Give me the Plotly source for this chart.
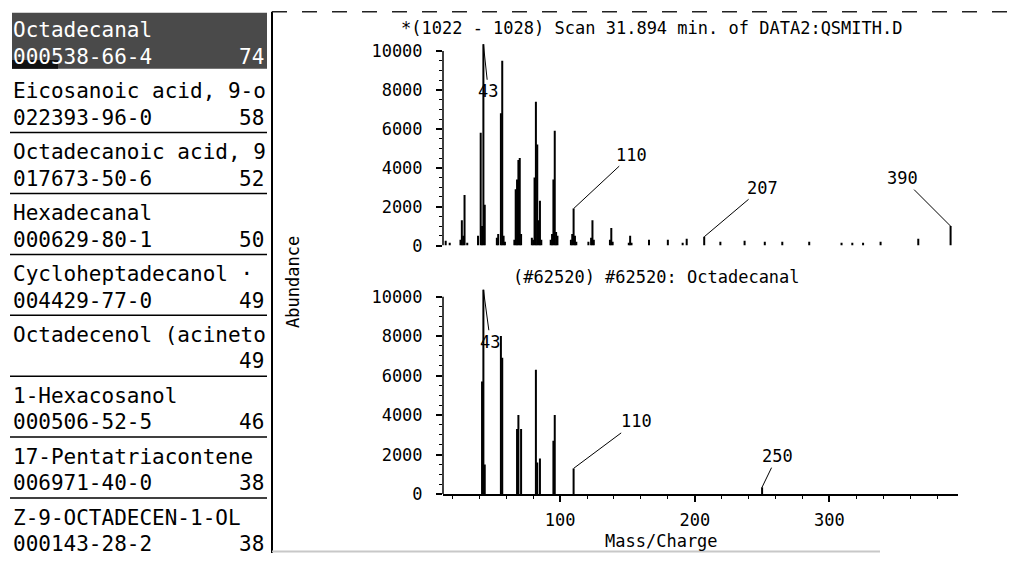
import plotly.graph_objects as go

W, H = 1016, 563
MONO = "DejaVu Sans Mono"

# ---- library search hit list ----
hit_names = ["Octadecanal", "Eicosanoic acid, 9-o", "Octadecanoic acid, 9", "Hexadecanal",
             "Cycloheptadecanol ·", "Octadecenol (acineto", "1-Hexacosanol",
             "17-Pentatriacontene", "Z-9-OCTADECEN-1-OL"]
hit_cas = ["000538-66-4", "022393-96-0", "017673-50-6", "000629-80-1", "004429-77-0", "",
           "000506-52-5", "006971-40-0", "000143-28-2"]
hit_quality = [74, 58, 52, 50, 49, 49, 46, 38, 38]

# ---- averaged scan spectrum (m/z, abundance) ----
scan_mz = [15, 18, 26, 27, 28, 29, 31, 39, 41, 42, 43, 44, 53, 54, 56, 57, 58, 59,
           66, 67, 68, 69, 70, 71, 79, 80, 81, 82, 83, 84, 85, 86, 93, 94, 95, 96, 97, 98,
           108, 109, 110, 111, 112, 121, 123, 124, 125, 137, 138, 139, 151, 152, 153,
           166, 180, 191, 194, 207, 219, 237, 252, 265, 285, 309, 317, 325, 338, 366, 390]
scan_abund = [250, 150, 300, 1300, 500, 2600, 150, 500, 5800, 1000, 10350, 2100, 400, 600, 6800, 9500, 500, 200,
              300, 2900, 3400, 4400, 4500, 600, 400, 300, 3500, 7400, 5200, 1300, 2300, 300, 300, 600, 3400, 5900, 700, 500,
              300, 600, 1900, 500, 200, 200, 400, 1300, 300, 300, 900, 200, 150, 500, 150,
              300, 300, 150, 350, 450, 200, 250, 200, 200, 200, 150, 150, 150, 200, 350, 1000]

# ---- reference library spectrum #62520 ----
lib_mz = [42, 43, 44, 56, 57, 68, 69, 71, 82, 83, 85, 95, 96, 110, 250]
lib_abund = [5700, 10350, 1500, 8000, 6900, 3300, 4000, 3300, 6300, 1600, 1800, 2700, 4000, 1300, 350]

scan_labels = [43, 110, 207, 390]
lib_labels = [43, 110, 250]

y_ticks = [0, 2000, 4000, 6000, 8000, 10000]
x_ticks = [100, 200, 300]


def px(x):
    return x / W


def py(y):
    return 1 - y / H


def sticks(mz, ab):
    xs, ys = [], []
    for m, a in zip(mz, ab):
        xs += [m, m, None]
        ys += [0, a, None]
    return xs, ys


fig = go.Figure()
sx, sy = sticks(scan_mz, scan_abund)
fig.add_trace(go.Scatter(x=sx, y=sy, mode="lines", line=dict(color="black", width=2),
                         xaxis="x", yaxis="y", hoverinfo="skip"))
lx, ly = sticks(lib_mz, lib_abund)
fig.add_trace(go.Scatter(x=lx, y=ly, mode="lines", line=dict(color="black", width=2),
                         xaxis="x2", yaxis="y2", hoverinfo="skip"))

xdom = [px(443), px(958)]
xrange_ = [13, 395.5]
minor_y = [v for v in range(500, 10001, 500) if v % 2000]
minor_x = [v for v in range(20, 395, 20) if v % 100]

FS = 17
tfont = dict(family=MONO, size=FS, color="black")

yaxis_common = dict(
    tickvals=y_ticks, ticktext=[str(v) for v in y_ticks], ticks="outside", ticklen=6,
    tickwidth=1.5, tickcolor="black", showgrid=False, zeroline=False, showline=False,
    tickfont=tfont, ticklabelstandoff=10,
    minor=dict(tickvals=minor_y, ticks="outside", ticklen=3, tickcolor="black", tickwidth=1),
)

fig.update_layout(
    width=W, height=H, autosize=False,
    margin=dict(l=0, r=0, t=0, b=0),
    paper_bgcolor="white", plot_bgcolor="white",
    showlegend=False,
    xaxis=dict(domain=xdom, range=xrange_, anchor="y", showline=False, showticklabels=False,
               ticks="", showgrid=False, zeroline=False),
    yaxis=dict(domain=[py(250), py(40)], range=[0, 10606], anchor="x", **yaxis_common),
    xaxis2=dict(domain=xdom, range=xrange_, anchor="y2", showline=True, linecolor="black",
                linewidth=1.5, ticks="outside", ticklen=6, tickwidth=1.5, tickcolor="black",
                tickvals=x_ticks, ticktext=[str(v) for v in x_ticks], showgrid=False,
                zeroline=False, tickfont=tfont, ticklabelstandoff=4,
                minor=dict(tickvals=minor_x, ticks="outside", ticklen=3, tickcolor="black",
                           tickwidth=1)),
    yaxis2=dict(domain=[py(503), py(290)], range=[0, 10597], anchor="x2", **yaxis_common),
)

shapes = []
annotations = []

# vertical axis lines up to the top tick
for xr, yr in (("x domain", "y"), ("x2 domain", "y2")):
    shapes.append(dict(type="line", xref=xr, yref=yr, x0=0, x1=0, y0=0, y1=10000,
                       line=dict(color="black", width=1.5)))

# window frame
shapes.append(dict(type="line", xref="paper", yref="paper", x0=px(272), x1=px(272),
                   y0=py(12), y1=py(563), line=dict(color="black", width=2)))
shapes.append(dict(type="line", xref="paper", yref="paper", x0=px(272), x1=1,
                   y0=py(12), y1=py(12), line=dict(color="#222222", width=1.5, dash="longdash")))
shapes.append(dict(type="line", xref="paper", yref="paper", x0=px(272), x1=px(880),
                   y0=py(561.5), y1=py(561.5), line=dict(color="#c8c8c8", width=2)))

# hit list: highlighted first entry
shapes.append(dict(type="rect", xref="paper", yref="paper", x0=px(12), x1=px(267),
                   y0=py(70), y1=py(13), fillcolor="#4a4a4a", line=dict(width=0), layer="below"))
shapes.append(dict(type="rect", xref="paper", yref="paper", x0=px(12), x1=px(58),
                   y0=py(70), y1=py(61), fillcolor="#111111", line=dict(width=0), layer="below"))

row0, step = 31, 62
for i, (name, cas, q) in enumerate(zip(hit_names, hit_cas, hit_quality)):
    y1 = row0 + step * i
    y2 = y1 + 27
    col = "white" if i == 0 else "black"
    font = dict(family=MONO, size=21, color=col)
    annotations.append(dict(x=px(11), y=py(y1), xref="paper", yref="paper", text=name,
                            showarrow=False, xanchor="left", yanchor="middle", font=font))
    if cas:
        annotations.append(dict(x=px(11), y=py(y2), xref="paper", yref="paper", text=cas,
                                showarrow=False, xanchor="left", yanchor="middle", font=font))
    annotations.append(dict(x=px(266), y=py(y2), xref="paper", yref="paper", text=str(q),
                            showarrow=False, xanchor="right", yanchor="middle", font=font))

# rules between hit entries
for i in range(1, len(hit_names) - 1):
    ys = row0 + step * i + 42
    shapes.append(dict(type="line", xref="paper", yref="paper", x0=px(10), x1=px(267),
                       y0=py(ys), y1=py(ys), line=dict(color="black", width=1.5)))

# panel titles and axis titles
annotations += [
    dict(x=px(652), y=py(29), xref="paper", yref="paper", showarrow=False,
         text="*(1022 - 1028) Scan 31.894 min. of DATA2:QSMITH.D", font=tfont,
         xanchor="center", yanchor="middle"),
    dict(x=px(656), y=py(282), xref="paper", yref="paper", showarrow=False,
         text="(#62520) #62520: Octadecanal", font=tfont, xanchor="center", yanchor="middle"),
    dict(x=px(293), y=py(287), xref="paper", yref="paper", showarrow=False,
         text="Abundance", textangle=-90, font=tfont, xanchor="center", yanchor="middle"),
    dict(x=px(661), y=py(551), xref="paper", yref="paper", showarrow=False,
         text="Mass/Charge", font=tfont, xanchor="center", yanchor="middle"),
]

# peak labels with leader lines
scan_lookup = dict(zip(scan_mz, scan_abund))
lib_lookup = dict(zip(lib_mz, lib_abund))
scan_offsets = {43: (5, 47), 110: (58, -54), 207: (58, -49), 390: (-48, -48)}
lib_offsets = {43: (7, 52), 110: (63, -47), 250: (15, -31)}
for m in scan_labels:
    ax, ay = scan_offsets[m]
    annotations.append(dict(x=m, y=scan_lookup[m], xref="x", yref="y", text=str(m),
                            showarrow=True, arrowhead=0, arrowwidth=1, arrowcolor="black",
                            ax=ax, ay=ay, font=tfont))
for m in lib_labels:
    ax, ay = lib_offsets[m]
    annotations.append(dict(x=m, y=lib_lookup[m], xref="x2", yref="y2", text=str(m),
                            showarrow=True, arrowhead=0, arrowwidth=1, arrowcolor="black",
                            ax=ax, ay=ay, font=tfont))

fig.update_layout(shapes=shapes, annotations=annotations)
fig.write_html("out.html")
